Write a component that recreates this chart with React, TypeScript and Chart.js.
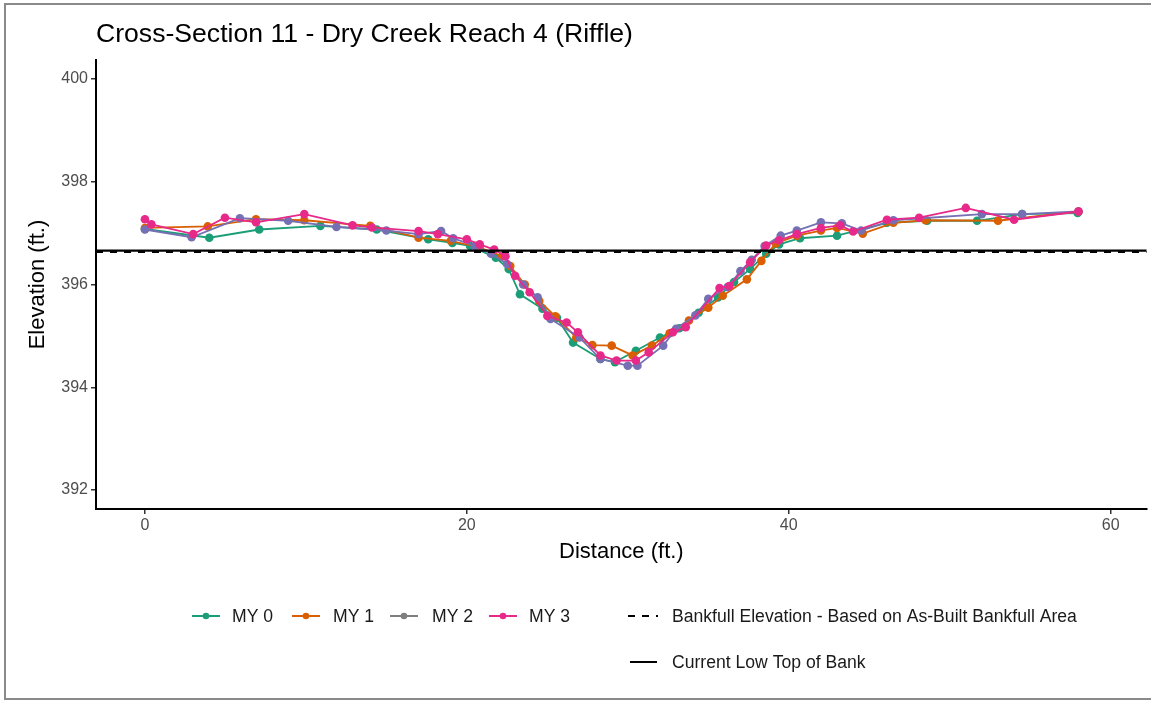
import React, { useEffect, useRef } from "react";
import { Chart, registerables } from "chart.js";

Chart.register(...registerables);

const TITLE = "Cross-Section 11 - Dry Creek Reach 4 (Riffle)";
const X_TITLE = "Distance (ft.)";
const Y_TITLE = "Elevation (ft.)";
const X_TICKS = [0, 20, 40, 60];
const Y_TICKS = [392, 394, 396, 398, 400];
const X_RANGE = [-3.04, 62.24];
const Y_RANGE = [391.632, 400.368];

const SERIES_NAMES = ["MY 0", "MY 1", "MY 2", "MY 3"];
const BANKFULL_LABEL = "Bankfull Elevation - Based on As-Built Bankfull Area";
const LOW_BANK_LABEL = "Current Low Top of Bank";
const BANKFULL_ELEV = 396.63;
const LOW_TOP_BANK_ELEV = 396.66;

const MY0: [number, number][] = [
  [0, 397.08], [4.0, 396.91], [7.1, 397.07], [10.9, 397.14], [14.4, 397.07],
  [17.6, 396.88], [19.1, 396.81], [20.2, 396.75], [21.8, 396.52], [22.6, 396.3],
  [23.3, 395.81], [24.7, 395.53], [25.6, 395.35], [26.6, 394.87], [28.3, 394.55],
  [29.2, 394.49], [30.5, 394.71], [32.0, 394.97], [33.2, 395.15], [34.4, 395.45],
  [35.6, 395.75], [36.6, 396.05], [37.6, 396.3], [38.6, 396.6], [39.4, 396.78],
  [40.7, 396.9], [43.0, 396.95], [46.1, 397.2], [48.6, 397.24], [51.7, 397.24],
  [54.5, 397.37], [57.95, 397.39],
];

const MY1: [number, number][] = [
  [0, 397.1], [3.9, 397.13], [6.9, 397.27], [9.9, 397.25], [14.0, 397.14],
  [17.0, 396.91], [19.0, 396.85], [20.8, 396.72], [22.2, 396.55], [22.7, 396.36],
  [23.6, 396.0], [24.5, 395.68], [25.5, 395.38], [26.8, 394.97], [27.8, 394.82],
  [29.0, 394.81], [30.3, 394.62], [31.5, 394.81], [32.6, 395.05], [33.8, 395.3],
  [35.0, 395.55], [35.9, 395.78], [37.4, 396.1], [38.3, 396.46], [39.2, 396.8],
  [40.5, 396.95], [42.0, 397.05], [43.0, 397.1], [44.6, 396.99], [46.5, 397.2],
  [48.5, 397.25], [53.0, 397.24], [58.0, 397.42],
];

const MY2: [number, number][] = [
  [0, 397.07], [2.9, 396.92], [5.9, 397.29], [8.9, 397.24], [11.9, 397.12],
  [15.0, 397.05], [17.0, 396.98], [18.4, 397.04], [19.15, 396.9], [20.5, 396.75],
  [21.5, 396.6], [22.5, 396.4], [23.5, 396.0], [24.4, 395.75], [25.2, 395.33],
  [27.0, 394.97], [28.3, 394.55], [30.0, 394.42], [30.6, 394.42], [32.2, 394.81],
  [33.0, 395.14], [34.2, 395.4], [35.0, 395.72], [36.2, 395.95], [37.0, 396.26],
  [37.7, 396.48], [38.5, 396.75], [39.5, 396.95], [40.5, 397.05], [42.0, 397.21],
  [43.3, 397.19], [44.5, 397.05], [46.5, 397.25], [52.0, 397.37], [54.5, 397.37],
  [58.0, 397.42],
];

const MY3: [number, number][] = [
  [0, 397.27], [0.4, 397.17], [3.0, 396.98], [4.97, 397.3], [6.9, 397.21],
  [9.9, 397.37], [12.9, 397.15], [14.1, 397.11], [17.0, 397.04], [18.2, 396.98],
  [20.0, 396.88], [20.8, 396.78], [21.7, 396.68], [22.4, 396.55], [23.0, 396.17],
  [23.9, 395.85], [25.0, 395.39], [26.2, 395.26], [26.9, 395.07], [28.3, 394.62],
  [29.3, 394.52], [30.5, 394.52], [31.3, 394.68], [32.8, 395.07], [33.6, 395.17],
  [35.7, 395.93], [36.3, 395.97], [37.6, 396.43], [38.6, 396.76], [39.4, 396.86],
  [40.5, 396.98], [42.0, 397.1], [43.2, 397.15], [44.0, 397.03], [46.1, 397.26],
  [48.1, 397.3], [51.0, 397.49], [54.0, 397.26], [58.0, 397.42],
];

const SERIES = [MY0, MY1, MY2, MY3];
const COLORS = ["#1b9e77", "#d95f02", "#7570b3", "#e7298a"];
const LEGEND_COLORS = ["#1b9e77", "#d95f02", "#7f7f7f", "#e7298a"];

const FONT = '"Liberation Sans", Arial, Helvetica, sans-serif';

const overlayPlugin = {
  id: "overlay",
  afterDraw(chart: any) {
    const ctx = chart.ctx as CanvasRenderingContext2D;
    ctx.save();
    // Title
    ctx.fillStyle = "#000";
    ctx.font = `26.6px ${FONT}`;
    ctx.textAlign = "left";
    ctx.textBaseline = "alphabetic";
    ctx.fillText(TITLE, 96, 42);

    // Legend
    ctx.font = `17.6px ${FONT}`;
    ctx.textBaseline = "middle";
    const row1 = 616;
    const row2 = 662;
    const items = [
      { x: 192, tx: 232 },
      { x: 292, tx: 333 },
      { x: 390, tx: 432 },
      { x: 489, tx: 529 },
    ];
    items.forEach((it, i) => {
      ctx.strokeStyle = LEGEND_COLORS[i];
      ctx.fillStyle = LEGEND_COLORS[i];
      ctx.lineWidth = 2;
      ctx.setLineDash([]);
      ctx.beginPath();
      ctx.moveTo(it.x, row1);
      ctx.lineTo(it.x + 28, row1);
      ctx.stroke();
      ctx.beginPath();
      ctx.arc(it.x + 14, row1, 3.3, 0, Math.PI * 2);
      ctx.fill();
      ctx.fillStyle = "#1a1a1a";
      ctx.fillText(SERIES_NAMES[i], it.tx, row1 + 1);
    });
    // bankfull dashed
    ctx.strokeStyle = "#000";
    ctx.lineWidth = 2;
    ctx.setLineDash([7, 7]);
    ctx.beginPath();
    ctx.moveTo(628, row1);
    ctx.lineTo(658, row1);
    ctx.stroke();
    ctx.setLineDash([]);
    ctx.fillStyle = "#1a1a1a";
    ctx.fillText(BANKFULL_LABEL, 672, row1 + 1);
    // low top of bank
    ctx.beginPath();
    ctx.moveTo(630, row2);
    ctx.lineTo(657, row2);
    ctx.stroke();
    ctx.fillText(LOW_BANK_LABEL, 672, row2 + 1);
    ctx.restore();
  },
};

export default function App() {
  const ref = useRef<HTMLCanvasElement | null>(null);

  useEffect(() => {
    if (!ref.current) return;
    const seriesSets = SERIES.map((s, i) => ({
      label: SERIES_NAMES[i],
      data: s.map(([x, y]) => ({ x, y })),
      showLine: true,
      borderColor: COLORS[i],
      backgroundColor: COLORS[i],
      borderWidth: 1.8,
      pointRadius: 4.3,
      pointBorderWidth: 0,
      pointBackgroundColor: COLORS[i],
      order: 4 - i,
    }));
    const hlines = [
      {
        label: BANKFULL_LABEL,
        data: [
          { x: X_RANGE[0], y: BANKFULL_ELEV },
          { x: X_RANGE[1], y: BANKFULL_ELEV },
        ],
        showLine: true,
        borderColor: "#000",
        borderWidth: 2,
        borderDash: [7, 7],
        pointRadius: 0,
        order: 0,
      },
      {
        label: LOW_BANK_LABEL,
        data: [
          { x: X_RANGE[0], y: LOW_TOP_BANK_ELEV },
          { x: X_RANGE[1], y: LOW_TOP_BANK_ELEV },
        ],
        showLine: true,
        borderColor: "#000",
        borderWidth: 2.2,
        pointRadius: 0,
        order: 0,
      },
    ];
    const chart = new Chart(ref.current, {
      type: "scatter",
      data: { datasets: [...seriesSets, ...hlines] as any },
      options: {
        animation: false,
        responsive: false,
        devicePixelRatio: 1,
        layout: { padding: { top: 60, left: 0, right: 0, bottom: 135 } },
        plugins: {
          legend: { display: false },
          title: { display: false },
          tooltip: { enabled: false },
        },
        scales: {
          x: {
            type: "linear",
            min: X_RANGE[0],
            max: X_RANGE[1],
            afterBuildTicks: (s: any) => {
              s.ticks = X_TICKS.map((v) => ({ value: v }));
            },
            afterFit: (s: any) => {
              s.height = 60;
            },
            grid: {
              drawOnChartArea: false,
              drawTicks: true,
              tickLength: 5,
              color: "#333",
              lineWidth: 1.5,
            },
            border: { display: true, color: "#000", width: 2 },
            ticks: {
              color: "#4d4d4d",
              font: { size: 16, family: FONT },
              padding: 2,
              maxRotation: 0,
              autoSkip: false,
              callback: (v: any) => String(v),
            },
            title: {
              display: true,
              text: X_TITLE,
              color: "#000",
              font: { size: 22, family: FONT },
              padding: { top: 0, bottom: 4 },
            },
          },
          y: {
            type: "linear",
            min: Y_RANGE[0],
            max: Y_RANGE[1],
            afterBuildTicks: (s: any) => {
              s.ticks = Y_TICKS.map((v) => ({ value: v }));
            },
            afterFit: (s: any) => {
              s.width = 96;
            },
            grid: {
              drawOnChartArea: false,
              drawTicks: true,
              tickLength: 5,
              color: "#333",
              lineWidth: 1.5,
            },
            border: { display: true, color: "#000", width: 2 },
            ticks: {
              color: "#4d4d4d",
              font: { size: 16, family: FONT },
              padding: 3,
              autoSkip: false,
              callback: (v: any) => String(v),
            },
            title: {
              display: true,
              text: Y_TITLE,
              color: "#000",
              font: { size: 22, family: FONT },
              padding: { top: 25, bottom: 0 },
            },
          },
        },
      },
      plugins: [overlayPlugin],
    });
    return () => chart.destroy();
  }, []);

  return (
    <div style={{ position: "absolute", left: 0, top: 0, width: 1151, height: 704, background: "#fff" }}>
      <canvas ref={ref} width={1151} height={704} style={{ display: "block" }} />
      <div
        style={{
          position: "absolute",
          left: 4,
          top: 3,
          width: 1147,
          height: 697,
          borderLeft: "2px solid #8a8a8a",
          borderTop: "2px solid #8a8a8a",
          borderBottom: "2px solid #8a8a8a",
          boxSizing: "border-box",
          pointerEvents: "none",
        }}
      />
    </div>
  );
}
